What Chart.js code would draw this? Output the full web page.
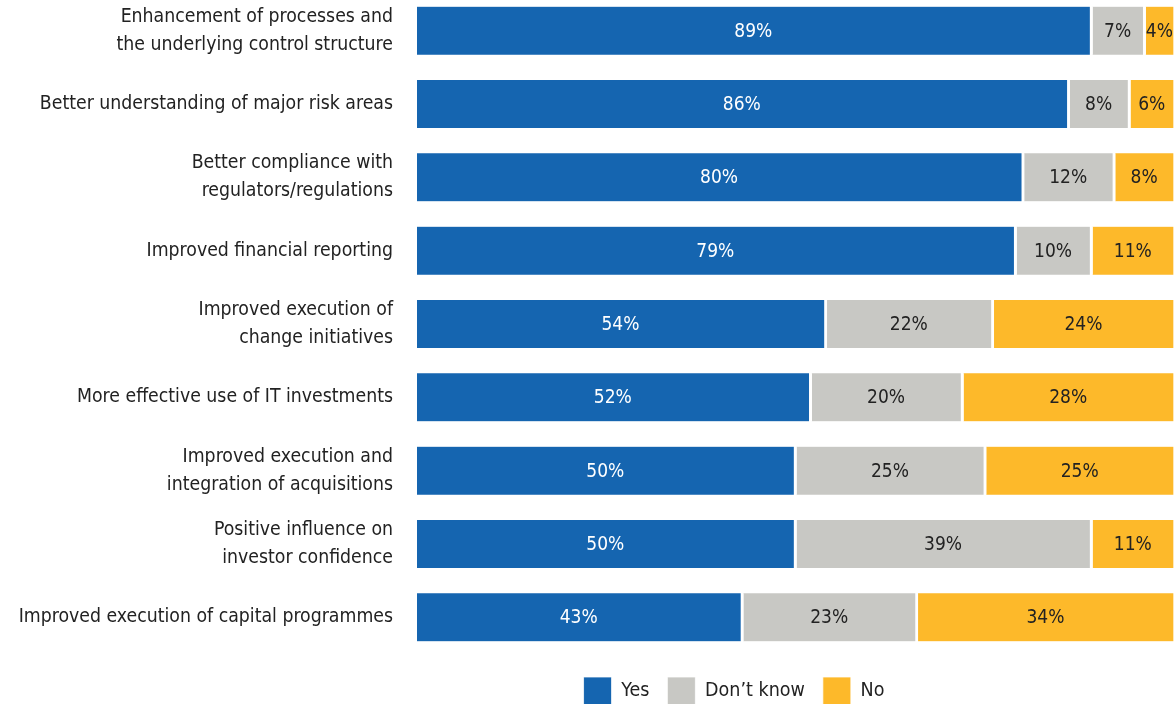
<!DOCTYPE html>
<html lang="en">
<head>
  <meta charset="UTF-8" />
  <title>Benefits of the programme</title>
  <script src="https://cdn.jsdelivr.net/npm/chart.js"></script>
  <style>
    body { margin: 0; background: #fff; }
    #wrap { width: 1176px; height: 704px; overflow: hidden; }
    #inner { position: relative; top: -6px; width: 1176px; height: 710px; }
  </style>
</head>
<body>
  <div id="wrap"><div id="inner"><canvas id="benefitsChart"></canvas></div></div>

  <script>
    const categories = [
      ["Enhancement of processes and", "the underlying control structure"],
      "Better understanding of major risk areas",
      ["Better compliance with", "regulators/regulations"],
      "Improved financial reporting",
      ["Improved execution of", "change initiatives"],
      "More effective use of IT investments",
      ["Improved execution and", "integration of acquisitions"],
      ["Positive influence on", "investor confidence"],
      "Improved execution of capital programmes"
    ];
    const yesValues = [89, 86, 80, 79, 54, 52, 50, 50, 43];
    const dontKnowValues = [7, 8, 12, 10, 22, 20, 25, 39, 23];
    const noValues = [4, 6, 8, 11, 24, 28, 25, 11, 34];

    const FONT = "'Liberation Sans Narrow', 'DejaVu Sans Condensed', 'Roboto', sans-serif";

    // percentage text in the middle of every segment
    const segmentLabels = {
      id: "segmentLabels",
      afterDatasetsDraw(chart) {
        const ctx = chart.ctx;
        ctx.save();
        ctx.font = "19px " + FONT;
        ctx.textAlign = "center";
        ctx.textBaseline = "middle";
        chart.data.datasets.forEach((ds, i) => {
          const meta = chart.getDatasetMeta(i);
          meta.data.forEach((bar, j) => {
            ctx.fillStyle = i === 0 ? "#ffffff" : "#222222";
            const cx = (bar.x + bar.base) / 2 - 1.5;
            ctx.fillText(ds.data[j] + "%", cx, bar.y + 1);
          });
        });
        ctx.restore();
      }
    };

    // legend sits under the bars rather than the page centre, a little lower
    const legendShift = {
      id: "legendShift",
      afterLayout(chart) {
        const lg = chart.legend;
        lg.left += 146;
        lg.right += 146;
        lg.top += 5;
        lg.bottom += 5;
      }
    };

    const barStyle = {
      borderColor: "#ffffff",
      borderWidth: { top: 0, bottom: 0, left: 0, right: 3 },
      borderSkipped: false,
      barThickness: 48,
      clip: false
    };

    new Chart(document.getElementById("benefitsChart"), {
      type: "bar",
      data: {
        labels: categories,
        datasets: [
          { label: "Yes", data: yesValues, backgroundColor: "#1565b0", ...barStyle },
          { label: "Don\u2019t know", data: dontKnowValues, backgroundColor: "#c8c8c4", ...barStyle },
          { label: "No", data: noValues, backgroundColor: "#fdb92a", ...barStyle }
        ]
      },
      options: {
        indexAxis: "y",
        responsive: true,
        maintainAspectRatio: false,
        animation: false,
        layout: { padding: { top: 0, right: 0, bottom: -6, left: 0 } },
        plugins: {
          legend: {
            position: "bottom",
            labels: {
              boxWidth: 28,
              boxHeight: 28,
              padding: 18,
              color: "#222",
              font: { family: FONT, size: 19.5 }
            }
          },
          tooltip: { enabled: false }
        },
        scales: {
          x: {
            stacked: true,
            min: 0,
            max: 100,
            display: false
          },
          y: {
            stacked: true,
            grid: { display: false, drawTicks: false },
            border: { display: false },
            ticks: {
              padding: 24,
              color: "#222",
              font: { family: FONT, size: 19.3, lineHeight: 1.45 }
            },
            afterFit(scale) {
              scale.width = 417;
              scale.paddingTop = 0;
              scale.paddingBottom = 0;
            }
          }
        }
      },
      plugins: [segmentLabels, legendShift]
    });
  </script>
</body>
</html>
